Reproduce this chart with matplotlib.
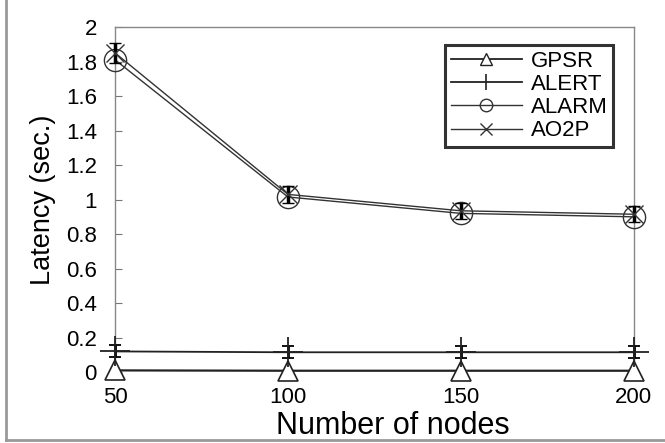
import matplotlib
matplotlib.use("Agg")
import matplotlib.pyplot as plt
from matplotlib.lines import Line2D

plt.rcParams["font.family"] = ["Liberation Sans", "DejaVu Sans"]

# data
nodes = [50, 100, 150, 200]
series_names = ["GPSR", "ALERT", "ALARM", "AO2P"]
gpsr = [0.01, 0.008, 0.008, 0.008]
alert = [0.12, 0.115, 0.115, 0.115]
alert_err = [0.035, 0.035, 0.035, 0.035]
alarm = [1.81, 1.015, 0.92, 0.90]
ao2p = [1.85, 1.03, 0.935, 0.915]
ao2p_err = [0.06, 0.05, 0.045, 0.045]
y_ticks = [0, 0.2, 0.4, 0.6, 0.8, 1, 1.2, 1.4, 1.6, 1.8, 2]
y_tick_labels = ["0", "0.2", "0.4", "0.6", "0.8", "1", "1.2", "1.4", "1.6", "1.8", "2"]

fig = plt.figure(figsize=(6.65, 4.43), dpi=100)
ax = fig.add_axes([0.173, 0.160, 0.780, 0.779])

ax.plot(nodes, gpsr, color="#222222", lw=1.6, marker="^", ms=14,
        mfc="white", mec="#222222", mew=1.2, clip_on=False, zorder=3)
ax.errorbar(nodes, alert, yerr=alert_err, color="#222222", lw=1.3, marker="+", ms=22,
            mew=1.3, ecolor="black", elinewidth=2, capsize=4, capthick=2.5,
            clip_on=False, zorder=4)
ax.plot(nodes, alarm, color="#333333", lw=1.0, marker="o", ms=16,
        mfc="none", mec="#333333", mew=1.0, clip_on=False, zorder=3)
ax.errorbar(nodes, ao2p, yerr=ao2p_err, color="#333333", lw=1.0, marker="x", ms=13,
            mew=1.0, ecolor="black", elinewidth=2.5, capsize=4, capthick=2.5,
            clip_on=False, zorder=4)

ax.set_xlim(50, 200)
ax.set_ylim(0, 2)
ax.set_xticks(nodes)
ax.set_yticks(y_ticks)
ax.set_yticklabels(y_tick_labels)
ax.tick_params(axis="y", direction="in", length=5, color="#777777", pad=13, labelsize=16)
ax.tick_params(axis="x", length=0, pad=11, labelsize=16)
for side in ["left", "right", "top"]:
    ax.spines[side].set_color("#888888")
    ax.spines[side].set_linewidth(1.0)
ax.spines["bottom"].set_visible(False)

ax.set_xlabel("Number of nodes", fontsize=22)
ax.xaxis.set_label_coords(0.535, -0.112)
ax.set_ylabel("Latency (sec.)", fontsize=19.5, labelpad=7)

handles = [Line2D([], [], color="#222222", lw=1.3, marker="^", ms=9, mfc="white", mec="#222222"),
           Line2D([], [], color="#222222", lw=1.3, marker="|", ms=11, mew=1.2),
           Line2D([], [], color="#333333", lw=1.0, marker="o", ms=9, mfc="none", mec="#333333"),
           Line2D([], [], color="#333333", lw=1.0, marker="x", ms=9)]
leg = fig.legend(handles, series_names, loc="upper right", bbox_to_anchor=(0.922, 0.898),
                 fontsize=16, frameon=True, fancybox=False, handlelength=3.2,
                 handletextpad=0.4, labelspacing=0.1, borderpad=0.25, borderaxespad=0)
leg.get_frame().set_edgecolor("black")
leg.get_frame().set_linewidth(2.2)

# partial outer frame around the figure
fig.add_artist(Line2D([0.009, 0.009], [1.0, 0.007], color="#999999", lw=2, transform=fig.transFigure))
fig.add_artist(Line2D([0.009, 1.0], [0.007, 0.007], color="#999999", lw=2, transform=fig.transFigure))

fig.savefig("out.png", dpi=100)
